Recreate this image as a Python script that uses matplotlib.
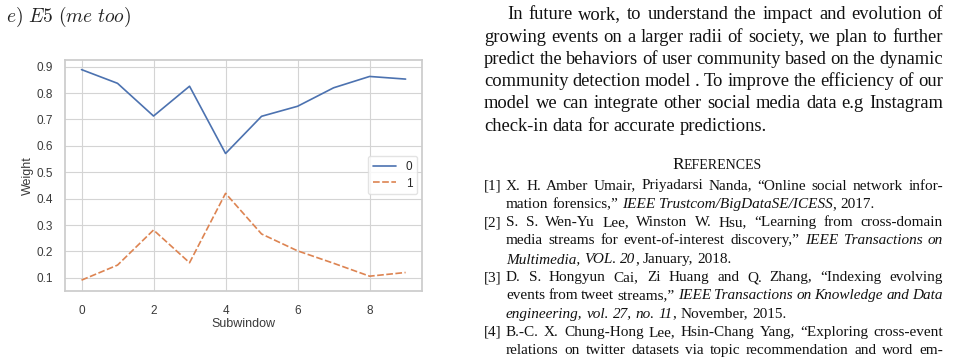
import matplotlib
matplotlib.use('Agg')
import matplotlib.pyplot as plt
import seaborn as sns

# chart data
subwindow = list(range(10))
weight_0 = [0.889, 0.837, 0.713, 0.826, 0.571, 0.712, 0.750, 0.820, 0.863, 0.853]
weight_1 = [0.091, 0.148, 0.281, 0.157, 0.420, 0.266, 0.202, 0.155, 0.106, 0.120]
series_labels = ['0', '1']
y_ticks = [0.1, 0.2, 0.3, 0.4, 0.5, 0.6, 0.7, 0.8, 0.9]
x_ticks = [0, 2, 4, 6, 8]

caption = r'$e)\ E5\ (me\ too)$'

# page text, *...* toggles italic
paragraph = [
    'In future work, to understand the impact and evolution of',
    'growing events on a larger radii of society, we plan to further',
    'predict the behaviors of user community based on the dynamic',
    'community detection model . To improve the efficiency of our',
    'model we can integrate other social media data e.g Instagram',
    'check-in data for accurate predictions.',
]
ref_labels = ['[1]', '[2]', '[3]', '[4]']
references = [
    ['X. H. Amber Umair, Priyadarsi Nanda, \u201cOnline social network infor-',
     'mation forensics,\u201d *IEEE Trustcom/BigDataSE/ICESS*, 2017.'],
    ['S. S. Wen-Yu Lee, Winston W. Hsu, \u201cLearning from cross-domain',
     'media streams for event-of-interest discovery,\u201d *IEEE Transactions on',
     'Multimedia, VOL. 20*, January, 2018.'],
    ['D. S. Hongyun Cai, Zi Huang and Q. Zhang, \u201cIndexing evolving',
     'events from tweet streams,\u201d *IEEE Transactions on Knowledge and Data',
     'engineering, vol. 27, no. 11*, November, 2015.'],
    ['B.-C. X. Chung-Hong Lee, Hsin-Chang Yang, \u201cExploring cross-event',
     'relations on twitter datasets via topic recommendation and word em-'],
]

W, H = 974, 357
sns.set_theme(style='whitegrid')
plt.rcParams['font.family'] = ['Liberation Sans', 'DejaVu Sans']
plt.rcParams['mathtext.fontset'] = 'cm'

fig = plt.figure(figsize=(W / 100, H / 100), dpi=100)
fig.patch.set_facecolor('white')
ax = fig.add_axes([65.3 / W, 1 - 290.7 / H, (421.8 - 65.3) / W, (290.7 - 59.7) / H])

ax.plot(subwindow, weight_0, color='#4C72B0', lw=1.2, label=series_labels[0])
ax.plot(subwindow, weight_1, color='#DD8452', lw=1.2, dashes=(4, 1.5),
        label=series_labels[1])
ax.set_ylim(0.051, 0.9265)
ax.set_xticks(x_ticks)
ax.set_yticks(y_ticks)
ax.set_yticklabels([f'{v:.1f}' for v in y_ticks])
ax.tick_params(labelsize=8.5, colors='#3a3a3a', pad=4)
ax.tick_params(axis='y', pad=3)
ax.set_xlabel('Subwindow', fontsize=9, color='#3a3a3a', labelpad=1)
ax.set_ylabel('Weight', fontsize=9, color='#3a3a3a', labelpad=2)
for s in ax.spines.values():
    s.set_color('#cccccc')
ax.grid(color='#d4d4d4', lw=0.8)
leg = ax.legend(loc='center right', fontsize=8.5, handlelength=2.0,
                borderaxespad=0.4, labelspacing=0.4)
leg.get_frame().set_edgecolor('#dddddd')

fig.text(6 / W, 1 - 22 / H, caption, fontsize=14, va='baseline', color='#222222')

renderer = fig.canvas.get_renderer()
serif = 'Liberation Serif'


def place_line(line, x0, x1, y, size, justify, italic):
    # lay out words from x0 to x1 (pixels) at baseline y, optionally justified
    words = []
    for word in line.split(' '):
        pieces = []
        parts = word.split('*')
        for i, p in enumerate(parts):
            if i > 0:
                italic = not italic
            if p:
                t = fig.text(0, 0, p, fontsize=size, family=serif,
                             style='italic' if italic else 'normal',
                             va='baseline', color='#111111')
                pieces.append((t, t.get_window_extent(renderer).width))
        words.append(pieces)
    total = sum(w for pcs in words for _, w in pcs)
    if justify and len(words) > 1:
        gap = (x1 - x0 - total) / (len(words) - 1)
    else:
        gap = size * 100 / 72 * 0.25
    x = x0
    for pcs in words:
        for t, w in pcs:
            t.set_position((x / W, 1 - y / H))
            x += w
        x += gap
    return italic


# paragraph
for i, line in enumerate(paragraph):
    y = 19.3 + 22.3 * i
    x0 = 507 if i == 0 else 484
    place_line(line, x0, 943, y, 13.3, i < len(paragraph) - 1, False)

# heading in small caps
t1 = fig.text(0, 0, 'R', fontsize=12.5, family=serif, va='baseline', color='#111111')
t2 = fig.text(0, 0, 'EFERENCES', fontsize=10, family=serif, va='baseline', color='#111111')
w1 = t1.get_window_extent(renderer).width
w2 = t2.get_window_extent(renderer).width
hx = 717 - (w1 + w2) / 2
t1.set_position((hx / W, 1 - 169 / H))
t2.set_position(((hx + w1) / W, 1 - 169 / H))

# references
row = 0
for label, entry in zip(ref_labels, references):
    y = 189.5 + 18.3 * row
    fig.text(484 / W, 1 - y / H, label, fontsize=11.0, family=serif,
             va='baseline', color='#111111')
    italic = False
    for j, line in enumerate(entry):
        y = 189.5 + 18.3 * row
        last = j == len(entry) - 1 and label != ref_labels[-1]
        italic = place_line(line, 506, 943, y, 11.0, not last, italic)
        row += 1

fig.savefig('out.png', dpi=100, facecolor='white')
